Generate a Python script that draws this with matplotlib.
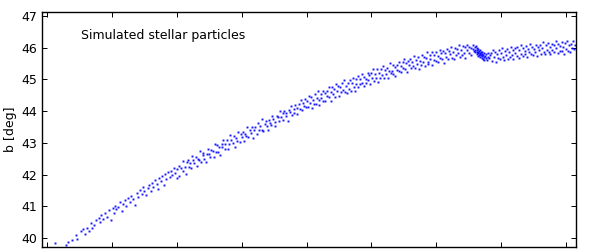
#!/usr/bin/env python3
import matplotlib
matplotlib.use("Agg")
import matplotlib.pyplot as plt

# particle positions (x axis has no visible labels)
x_inner = [0.12, 0.30, 0.33, 0.38, 0.44, 0.47, 0.52, 0.55, 0.58, 0.61, 0.64, 0.68, 0.70, 0.73,
           0.76, 0.80, 0.82, 0.84, 0.87, 0.90, 0.93, 0.96, 0.98, 1.01, 1.03, 1.05, 1.07, 1.10,
           1.12, 1.15, 1.17, 1.20, 1.22, 1.25, 1.28, 1.30, 1.33, 1.36, 1.38, 1.41, 1.44, 1.46,
           1.48, 1.50, 1.53, 1.55, 1.57, 1.60, 1.62, 1.64, 1.67, 1.69, 1.71, 1.73, 1.76, 1.78,
           1.80, 1.82, 1.84, 1.87, 1.89, 1.91, 1.93, 1.96, 1.98, 2.00]
b_inner = [39.84, 39.78, 39.86, 39.95, 40.08, 39.96, 40.22, 40.27, 40.12, 40.30, 40.22, 40.48,
           40.33, 40.41, 40.58, 40.63, 40.52, 40.71, 40.60, 40.78, 40.66, 40.88, 40.57, 40.93,
           40.80, 41.02, 40.90, 40.99, 41.12, 40.86, 41.08, 41.20, 41.01, 41.27, 41.15, 41.33,
           41.22, 41.05, 41.41, 41.30, 41.52, 41.38, 41.60, 41.47, 41.35, 41.58, 41.66, 41.49,
           41.74, 41.61, 41.83, 41.70, 41.55, 41.88, 41.79, 41.95, 41.67, 42.02, 41.86, 42.08,
           41.93, 42.12, 41.98, 42.20, 42.05, 41.90]

x_rise = [2.01, 2.04, 2.04, 2.07, 2.09, 2.10, 2.13, 2.14, 2.16, 2.17, 2.19, 2.21, 2.22, 2.24,
          2.25, 2.27, 2.30, 2.31, 2.32, 2.35, 2.36, 2.38, 2.40, 2.41, 2.42, 2.45, 2.46, 2.48,
          2.50, 2.51, 2.53, 2.56, 2.57, 2.59, 2.60, 2.62, 2.64, 2.65, 2.67, 2.69, 2.70, 2.72,
          2.74, 2.75, 2.78, 2.79, 2.81, 2.82, 2.84, 2.87, 2.88, 2.89, 2.92, 2.93, 2.95, 2.97,
          2.99, 3.00, 3.02, 3.04, 3.05, 3.07, 3.09, 3.10, 3.13, 3.14, 3.16, 3.18, 3.19, 3.21,
          3.23, 3.25, 3.26, 3.28, 3.31, 3.32, 3.33, 3.36, 3.37, 3.39, 3.41, 3.42, 3.44, 3.46,
          3.47, 3.49, 3.51, 3.52, 3.54, 3.56, 3.58, 3.59, 3.61, 3.63, 3.64, 3.66, 3.68, 3.69,
          3.71, 3.73, 3.75, 3.76, 3.78, 3.80, 3.81, 3.83, 3.85, 3.86, 3.88, 3.90, 3.91, 3.93,
          3.95, 3.96, 3.98, 3.99]
b_rise = [42.16, 41.97, 42.27, 42.21, 42.12, 42.43, 42.24, 42.03, 42.39, 42.46, 42.23, 42.37,
          42.21, 42.57, 42.46, 42.35, 42.56, 42.26, 42.50, 42.46, 42.73, 42.40, 42.62, 42.69,
          42.49, 42.39, 42.66, 42.80, 42.64, 42.54, 42.79, 42.74, 42.55, 42.97, 42.72, 42.92,
          42.72, 42.88, 42.61, 42.96, 42.87, 43.08, 42.81, 42.97, 43.08, 42.82, 42.96, 43.25,
          43.10, 42.98, 43.22, 42.88, 43.15, 43.06, 43.34, 43.04, 43.27, 43.19, 43.34, 43.06,
          43.29, 43.21, 43.50, 43.19, 43.40, 43.31, 43.51, 43.16, 43.40, 43.51, 43.29, 43.63,
          43.42, 43.54, 43.42, 43.76, 43.37, 43.58, 43.70, 43.52, 43.42, 43.71, 43.64, 43.55,
          43.85, 43.75, 43.67, 43.53, 43.86, 43.80, 43.70, 44.01, 43.80, 43.93, 43.71, 44.02,
          43.84, 43.94, 43.70, 44.05, 43.96, 44.17, 43.88, 44.07, 43.95, 44.20, 43.90, 44.09,
          44.23, 44.08, 44.36, 44.03, 44.25, 44.17, 44.38, 44.13]

x_bend = [4.01, 4.02, 4.04, 4.05, 4.07, 4.08, 4.10, 4.11, 4.13, 4.14, 4.16, 4.17, 4.19, 4.20,
          4.22, 4.23, 4.25, 4.26, 4.28, 4.29, 4.31, 4.32, 4.34, 4.35, 4.37, 4.38, 4.40, 4.41,
          4.43, 4.44, 4.46, 4.47, 4.49, 4.50, 4.52, 4.53, 4.55, 4.56, 4.58, 4.59, 4.61, 4.62,
          4.64, 4.65, 4.67, 4.68, 4.70, 4.71, 4.73, 4.74, 4.76, 4.77, 4.79, 4.80, 4.82, 4.83,
          4.85, 4.86, 4.88, 4.89, 4.91, 4.92, 4.94, 4.95, 4.97, 4.98, 5.00, 5.01, 5.03, 5.04,
          5.06, 5.07, 5.09, 5.10, 5.12, 5.13, 5.15, 5.16, 5.18, 5.19, 5.21, 5.22, 5.24, 5.25,
          5.27, 5.28, 5.30, 5.31, 5.33, 5.34, 5.36, 5.37, 5.39, 5.40, 5.42, 5.43, 5.45, 5.46,
          5.48, 5.49, 5.51, 5.52, 5.54, 5.55, 5.57, 5.58, 5.60, 5.61, 5.63, 5.64, 5.66, 5.67,
          5.69, 5.70, 5.72, 5.73, 5.75, 5.76, 5.78, 5.79, 5.81, 5.82, 5.84, 5.85, 5.87, 5.88,
          5.90, 5.91, 5.93, 5.94, 5.96, 5.97, 5.99, 6.00, 6.02, 6.03, 6.05, 6.06, 6.08, 6.09,
          6.11, 6.12, 6.14, 6.15, 6.17, 6.18, 6.20, 6.21, 6.23, 6.24, 6.26, 6.27, 6.29, 6.30,
          6.32, 6.33, 6.35, 6.36, 6.38, 6.39, 6.41, 6.42, 6.44, 6.45, 6.47, 6.48, 6.50, 6.51,
          6.53, 6.54]
b_bend = [44.33, 44.14, 44.48, 44.25, 44.44, 44.10, 44.35, 44.24, 44.53, 44.21, 44.43, 44.62,
          44.35, 44.20, 44.55, 44.43, 44.65, 44.33, 44.56, 44.31, 44.65, 44.47, 44.76, 44.44,
          44.60, 44.33, 44.75, 44.53, 44.71, 44.46, 44.86, 44.63, 44.79, 44.48, 44.76, 44.59,
          44.90, 44.68, 44.99, 44.60, 44.78, 44.56, 44.89, 44.71, 44.98, 44.65, 44.88, 45.04,
          44.76, 44.63, 45.02, 44.86, 45.10, 44.77, 45.01, 44.85, 45.18, 44.90, 45.09, 44.78,
          45.02, 44.88, 45.20, 44.98, 45.14, 44.87, 45.21, 45.05, 45.32, 44.96, 45.17, 45.03,
          45.32, 44.93, 45.19, 45.05, 45.33, 45.14, 45.41, 45.05, 45.31, 45.16, 45.37, 45.06,
          45.28, 45.51, 45.19, 45.27, 45.47, 45.17, 45.38, 45.11, 45.45, 45.30, 45.56, 45.25,
          45.42, 45.22, 45.55, 45.37, 45.64, 45.34, 45.51, 45.24, 45.58, 45.45, 45.65, 45.35,
          45.54, 45.42, 45.74, 45.36, 45.62, 45.48, 45.70, 45.34, 45.59, 45.46, 45.77, 45.56,
          45.71, 45.42, 45.68, 45.85, 45.54, 45.49, 45.78, 45.63, 45.85, 45.46, 45.76, 45.61,
          45.86, 45.58, 45.74, 45.54, 45.93, 45.68, 45.84, 45.64, 45.89, 45.53, 45.82, 45.71,
          45.96, 45.63, 45.89, 45.79, 46.03, 45.68, 45.86, 45.63, 45.99, 45.76, 45.96, 45.82,
          46.10, 45.70, 45.94, 45.76, 46.05, 45.83, 46.02, 45.69, 45.92, 46.10, 45.82, 46.03,
          45.78, 45.98]

# dense knot near the top of the curve
x_knot = [6.56, 6.57, 6.58, 6.59, 6.60, 6.60, 6.61, 6.62, 6.62, 6.63, 6.63, 6.64, 6.64, 6.65,
          6.65, 6.66, 6.66, 6.67, 6.67, 6.68, 6.68, 6.69, 6.69, 6.70, 6.70, 6.71, 6.71, 6.72,
          6.72, 6.73, 6.74, 6.74, 6.75, 6.76, 6.77, 6.78, 6.79, 6.80, 6.82, 6.83]
b_knot = [45.97, 46.08, 45.90, 46.02, 45.94, 45.85, 46.05, 45.88, 45.98, 45.80, 45.92, 45.86,
          45.75, 45.95, 45.83, 45.89, 45.78, 45.84, 45.72, 45.92, 45.80, 45.76, 45.86, 45.69,
          45.81, 45.74, 45.88, 45.65, 45.78, 45.71, 45.83, 45.62, 45.74, 45.68, 45.79, 45.60,
          45.72, 45.84, 45.66, 45.77]

x_outer = [6.85, 6.86, 6.88, 6.89, 6.91, 6.92, 6.94, 6.95, 6.97, 6.98, 7.00, 7.01, 7.03, 7.04,
           7.06, 7.07, 7.09, 7.10, 7.12, 7.13, 7.15, 7.16, 7.18, 7.19, 7.21, 7.22, 7.24, 7.25,
           7.27, 7.28, 7.30, 7.31, 7.33, 7.34, 7.36, 7.37, 7.39, 7.40, 7.42, 7.43, 7.45, 7.46,
           7.48, 7.49, 7.51, 7.52, 7.54, 7.55, 7.57, 7.58, 7.60, 7.61, 7.63, 7.64, 7.66, 7.67,
           7.69, 7.70, 7.72, 7.73, 7.75, 7.76, 7.78, 7.79, 7.81, 7.82, 7.84, 7.85, 7.87, 7.88,
           7.90, 7.91, 7.93, 7.94, 7.96, 7.97, 7.99, 8.00, 8.02, 8.03, 8.05, 8.06, 8.08, 8.09,
           8.11, 8.12, 8.14]
b_outer = [45.82, 45.59, 45.94, 45.71, 45.87, 45.55, 45.79, 45.67, 45.94, 45.64, 45.84, 46.00,
           45.72, 45.61, 45.91, 45.78, 45.96, 45.65, 45.86, 45.72, 46.03, 45.78, 45.93, 45.63,
           45.98, 45.84, 46.03, 45.73, 45.92, 45.69, 46.10, 45.81, 45.98, 45.74, 45.90, 45.80,
           46.05, 45.70, 45.97, 45.87, 46.12, 45.80, 46.03, 45.76, 45.96, 45.85, 46.10, 45.73,
           46.03, 45.92, 46.08, 45.81, 46.00, 46.19, 45.87, 45.79, 46.08, 45.93, 46.16, 45.85,
           46.01, 45.80, 46.13, 45.92, 46.07, 45.85, 46.20, 45.98, 46.12, 45.84, 46.06, 45.91,
           46.18, 45.90, 46.03, 45.81, 46.15, 45.97, 46.21, 45.90, 46.10, 45.88, 46.13, 46.00,
           46.20, 45.96, 46.08]

x_ticks = [0, 1, 2, 3, 4, 5, 6, 7, 8]
b_ticks = [40, 41, 42, 43, 44, 45, 46, 47]

fig = plt.figure(figsize=(5.89, 2.5), dpi=100)
ax = fig.add_axes([0.0713, 0.012, 0.9067, 0.94])

for xs, bs in [(x_inner, b_inner), (x_rise, b_rise), (x_bend, b_bend),
               (x_knot, b_knot), (x_outer, b_outer)]:
    ax.plot(xs, bs, "s", color="#0000ff", ms=1.4, mew=0, alpha=0.9)

ax.set_xlim(-0.077, 8.154)
ax.set_ylim(39.716, 47.126)
ax.set_xticks(x_ticks)
ax.set_yticks(b_ticks)
ax.tick_params(direction="in", length=3.5, width=0.7, top=True, right=True,
               labelbottom=False, labelsize=9, pad=3.5)
for sp in ax.spines.values():
    sp.set_linewidth(1.0)

ax.set_ylabel("b [deg]", fontsize=9)
ax.yaxis.set_label_coords(-0.047, 0.5)
ax.text(0.073, 0.898, "Simulated stellar particles", transform=ax.transAxes,
        fontsize=9, va="center", ha="left")

fig.savefig("out.png", dpi=100)
